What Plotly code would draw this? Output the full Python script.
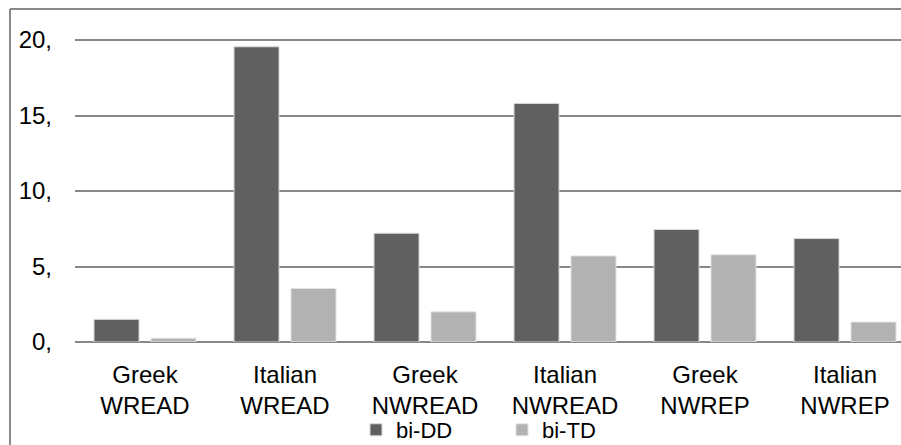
import plotly.graph_objects as go

# Reading scores by group and task
categories = ["Greek<br>WREAD", "Italian<br>WREAD", "Greek<br>NWREAD",
              "Italian<br>NWREAD", "Greek<br>NWREP", "Italian<br>NWREP"]
bi_dd = [1.5, 19.55, 7.2, 15.8, 7.45, 6.85]
bi_td = [0.25, 3.55, 2.0, 5.7, 5.78, 1.32]

y_tickvals = [0, 5, 10, 15, 20]
y_ticktext = ["0,", "5,", "10,", "15,", "20,"]

FONT = "Liberation Sans, Arial, sans-serif"
DARK = "#606060"
LIGHT = "#b2b2b2"
GRID = "#888888"

fig = go.Figure()
fig.add_trace(go.Bar(name="bi-DD", x=categories, y=bi_dd,
                     marker=dict(color=DARK, line=dict(color="#d8d8d8", width=1))))
fig.add_trace(go.Bar(name="bi-TD", x=categories, y=bi_td,
                     marker=dict(color=LIGHT, line=dict(color="#e4e4e4", width=1))))

W, H = 901, 445
L, T, B = 75, 32, 103
plot_w = W - L
plot_h = H - T - B

fig.update_layout(
    width=W, height=H,
    margin=dict(l=L, r=0, t=T, b=B, pad=0, autoexpand=False),
    paper_bgcolor="white", plot_bgcolor="white",
    barmode="group", bargap=0.186, bargroupgap=0.21,
    font=dict(family=FONT, size=24, color="black"),
    showlegend=True,
    legend=dict(orientation="h", x=(356 - L) / plot_w, xanchor="left",
                y=(342 - 409) / plot_h, yanchor="top",
                font=dict(size=22, family=FONT, color="black"),
                bgcolor="rgba(0,0,0,0)", entrywidth=101, entrywidthmode="pixels",
                itemclick=False, traceorder="normal"),
    xaxis=dict(range=[-0.5, -0.5 + plot_w / 140], showgrid=False, showline=False,
               ticks="", tickfont=dict(size=24), ticklabelstandoff=16,
               fixedrange=True),
    yaxis=dict(range=[0, 20 * plot_h / 302], tickvals=y_tickvals, ticktext=y_ticktext,
               showgrid=True, gridcolor=GRID, gridwidth=2,
               zeroline=True, zerolinecolor=GRID, zerolinewidth=2,
               showline=False, ticks="", tickfont=dict(size=24),
               ticklabelstandoff=22, fixedrange=True),
)

# Outer frame (top and left edges visible)
fig.add_shape(type="line", xref="paper", yref="paper",
              x0=(10 - L) / plot_w, x1=1.05,
              y0=(342 - 9) / plot_h, y1=(342 - 9) / plot_h,
              line=dict(color=GRID, width=2))
fig.add_shape(type="line", xref="paper", yref="paper",
              x0=(10 - L) / plot_w, x1=(10 - L) / plot_w,
              y0=(342 - 9) / plot_h, y1=(342 - 460) / plot_h,
              line=dict(color=GRID, width=2))

fig.write_html("out.html")
